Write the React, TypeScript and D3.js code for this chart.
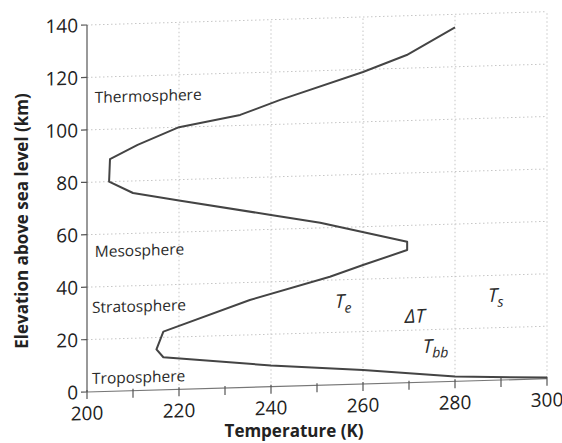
import React from 'react'
import { scaleLinear, line } from 'd3'

// temperature profile, bottom to top
const profileT = [300, 280, 260, 240, 216.6, 215.1, 216.6, 235.4, 252.8, 260, 269.6, 269.6, 250.7, 240, 220, 210, 204.8, 205, 211, 220, 233.3, 242, 260, 269.5, 280]
const profileKm = [0.4, 1.8, 5.3, 8.1, 12.4, 15.5, 22.2, 33.3, 41.3, 45.4, 50.6, 53.8, 62, 65.5, 72, 75.4, 80, 88.6, 93.7, 100, 104, 109.3, 119, 125, 135]

const xTicks = [200, 220, 240, 260, 280, 300]
const xMinor = [210, 230, 250, 270, 290]
const yTicks = [0, 20, 40, 60, 80, 100, 120, 140]

const layers = [
  { name: 'Thermosphere', t: 201.7, km: 110.2 },
  { name: 'Mesosphere', t: 201.7, km: 51.4 },
  { name: 'Stratosphere', t: 201.1, km: 30.1 },
  { name: 'Troposphere', t: 201.1, km: 3.0 }
]

const symbols = [
  { main: 'T', sub: 'e', t: 253.9, km: 29.3 },
  { main: 'ΔT', sub: '', t: 269.1, km: 22.8 },
  { main: 'T', sub: 'bb', t: 273, km: 11.2 },
  { main: 'T', sub: 's', t: 287.2, km: 29.9 }
]

const W = 562
const H = 443
const M = { left: 87, top: 25, right: 15, bottom: 51 }
const SKEW = 0.029 // the scan tilts up to the right
const FONT = '"Open Sans", "Noto Sans", sans-serif'

export default function App() {
  const x = scaleLinear().domain([200, 300]).range([M.left, W - M.right])
  const y = scaleLinear().domain([0, 140]).range([H - M.bottom, M.top])

  const pts = profileT.map((t, i) => [t, profileKm[i]] as [number, number])
  const path = line<[number, number]>()
    .x((d) => x(d[0]))
    .y((d) => y(d[1]))(pts)

  const skewDeg = (-Math.atan(SKEW) * 180) / Math.PI
  const grid = '#c6c6c6'

  return (
    <svg width={W} height={H} style={{ position: 'absolute', left: 0, top: 0, background: '#fff' }} fontFamily={FONT}>
      <g transform={`translate(0, ${M.left * SKEW}) skewY(${skewDeg})`}>
        <g className="grid">
          {xTicks.slice(1).map((t) => (
            <line key={'gx' + t} x1={x(t)} x2={x(t)} y1={y(0)} y2={y(140)} stroke={grid} strokeDasharray="1.5 2.5" />
          ))}
          {yTicks.slice(1).map((k) => (
            <line key={'gy' + k} x1={x(200)} x2={x(300)} y1={y(k)} y2={y(k)} stroke={grid} strokeDasharray="1.5 2.5" />
          ))}
        </g>
        <g className="axis">
          <line x1={x(200)} x2={x(300)} y1={y(0)} y2={y(0)} stroke="#777" strokeWidth={1.2} />
          <line x1={x(200)} x2={x(200)} y1={y(0)} y2={y(140)} stroke="#555" strokeWidth={1.2} />
          {[...xTicks, ...xMinor].map((t) => (
            <line key={'tx' + t} x1={x(t)} x2={x(t)} y1={y(0) - 2} y2={y(0) + 7} stroke="#555" strokeWidth={1.2} />
          ))}
          {yTicks.map((k) => (
            <line key={'ty' + k} x1={x(200) - 6} x2={x(200)} y1={y(k)} y2={y(k)} stroke="#555" strokeWidth={1.2} />
          ))}
          {xTicks.map((t) => (
            <text key={'lx' + t} x={x(t)} y={y(0) + 28} textAnchor="middle" fontSize={19} fill="#222">
              {t}
            </text>
          ))}
          {yTicks.map((k) => (
            <text key={'ly' + k} x={x(200) - 9} y={y(k) + 7} textAnchor="end" fontSize={19} fill="#222">
              {k}
            </text>
          ))}
        </g>
        <path d={path || ''} fill="none" stroke="#444" strokeWidth={2} strokeLinejoin="round" />
        <g className="labels" fontSize={15.5} fill="#2a2a2a">
          {layers.map((l) => (
            <text key={l.name} x={x(l.t)} y={y(l.km)}>
              {l.name}
            </text>
          ))}
        </g>
        <g className="symbols" fill="#2a2a2a" fontStyle="italic">
          {symbols.map((s, i) => (
            <text key={i} x={x(s.t)} y={y(s.km)} fontSize={19}>
              {s.main}
              {s.sub && (
                <tspan fontSize={14} dy={5}>
                  {s.sub}
                </tspan>
              )}
            </text>
          ))}
        </g>
      </g>
      <text x={294} y={437} textAnchor="middle" fontSize={17} fontWeight="bold" fill="#222">
        Temperature (K)
      </text>
      <text transform={`translate(28, 221) rotate(-90)`} textAnchor="middle" fontSize={17} fontWeight="bold" fill="#222">
        Elevation above sea level (km)
      </text>
    </svg>
  )
}
